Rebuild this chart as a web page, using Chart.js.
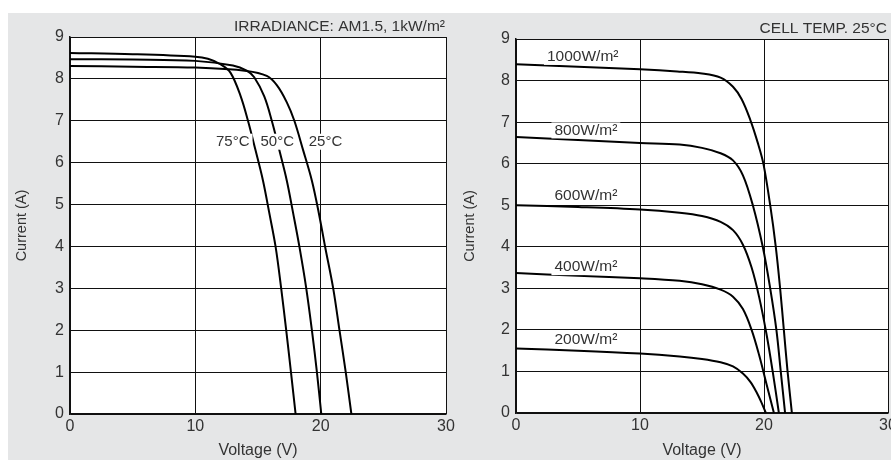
<!DOCTYPE html>
<html>
<head>
<meta charset="utf-8">
<script src="https://cdn.jsdelivr.net/npm/chart.js@4/dist/chart.umd.min.js"></script>
<style>
  html, body { margin: 0; padding: 0; width: 891px; height: 460px; overflow: hidden; background: #fff; }
  #panel { position: absolute; left: 8px; top: 13px; width: 883px; height: 447px; background: #e5e6e7; }
  #tempChart { position: absolute; left: 0; top: 0; }
  #irrChart { position: absolute; left: 455px; top: 0; }
</style>
</head>
<body>
<div id="panel"></div>
<canvas id="tempChart" width="455" height="460"></canvas>
<canvas id="irrChart" width="460" height="460"></canvas>
<script>
// left chart: I-V curves at different cell temperatures (1 kW/m2)
const tempNames = ["75°C", "50°C", "25°C"];
const volt75 = [0, 5, 10, 11, 12, 12.8, 13.6, 14.2, 14.8, 15.4, 15.9, 16.4, 16.85, 17.25, 17.63, 18.0];
const curr75 = [8.62, 8.59, 8.53, 8.48, 8.35, 8.15, 7.6, 7.0, 6.3, 5.57, 4.8, 4.0, 3.0, 2.0, 1.0, 0];
const volt50 = [0, 5, 10, 13, 14.1, 14.7, 15.5, 16.1, 16.7, 17.3, 17.8, 18.3, 18.85, 19.3, 19.7, 20.05];
const curr50 = [8.47, 8.46, 8.43, 8.32, 8.2, 8.04, 7.58, 7.0, 6.3, 5.57, 4.8, 4.0, 3.0, 2.0, 1.0, 0];
const volt25 = [0, 5, 10, 14.1, 15.7, 16.5, 17.3, 17.9, 18.6, 19.3, 19.85, 20.35, 21.0, 21.5, 22.0, 22.45];
const curr25 = [8.31, 8.29, 8.27, 8.19, 8.07, 7.85, 7.44, 7.0, 6.3, 5.57, 4.8, 4.0, 3.0, 2.0, 1.0, 0];

// right chart: I-V curves at different irradiance (25°C)
const irrNames = ["1000W/m²", "800W/m²", "600W/m²", "400W/m²", "200W/m²"];
const volt1000 = [0, 5, 10, 13, 15, 16.5, 17.5, 18.2, 18.9, 19.5, 19.95, 20.5, 20.95, 21.3, 21.6, 21.9, 22.25];
const curr1000 = [8.39, 8.33, 8.27, 8.22, 8.17, 8.07, 7.85, 7.55, 7.05, 6.5, 6.0, 5.0, 4.0, 3.0, 2.0, 1.0, 0];
const volt800 = [0, 5, 10, 13.2, 15, 16.5, 17.5, 18.3, 19.1, 19.9, 20.5, 21.0, 21.35, 21.7];
const curr800 = [6.64, 6.57, 6.5, 6.46, 6.38, 6.25, 6.08, 5.72, 5.0, 4.0, 3.0, 2.0, 1.0, 0];
const volt600 = [0, 5, 10, 13.2, 15, 16.5, 17.5, 18.3, 19.0, 19.6, 20.2, 20.7, 21.2];
const curr600 = [5.0, 4.96, 4.9, 4.82, 4.74, 4.6, 4.4, 4.05, 3.5, 2.8, 1.9, 1.0, 0];
const volt400 = [0, 5, 10, 13.2, 15, 16.5, 17.5, 18.3, 19.0, 19.6, 20.2, 20.8];
const curr400 = [3.37, 3.3, 3.24, 3.18, 3.1, 2.97, 2.8, 2.5, 2.0, 1.4, 0.7, 0];
const volt200 = [0, 5, 10, 13.2, 15, 16.5, 17.5, 18.3, 18.9, 19.4, 19.8, 20.15];
const curr200 = [1.55, 1.5, 1.43, 1.36, 1.3, 1.22, 1.12, 0.95, 0.75, 0.5, 0.25, 0];

const voltTicks = [0, 10, 20, 30];
const currTicks = [0, 1, 2, 3, 4, 5, 6, 7, 8, 9];

const FONT = "'Liberation Sans', Arial, Helvetica, sans-serif";
const TEXT = "#333";

function toPoints(vs, is) {
  return vs.map((v, k) => ({ x: v, y: is[k] }));
}

function curve(label, vs, is) {
  return {
    label: label,
    data: toPoints(vs, is),
    borderColor: "#000",
    borderWidth: 2,
    pointRadius: 0,
    fill: false,
    tension: 0.35
  };
}

// white plot area, header text and curve labels (labels knock out lines behind them)
const decor = {
  id: "decor",
  beforeDraw(chart) {
    const a = chart.chartArea;
    const ctx = chart.ctx;
    ctx.save();
    ctx.fillStyle = "#fff";
    ctx.fillRect(a.left, a.top, a.right - a.left, a.bottom - a.top);
    ctx.restore();
  },
  afterDraw(chart, args, opts) {
    const ctx = chart.ctx;
    const xs = chart.scales.x, ys = chart.scales.y;
    ctx.save();
    ctx.fillStyle = TEXT;
    ctx.font = opts.headerSize + "px " + FONT;
    ctx.textAlign = "right";
    ctx.textBaseline = "middle";
    ctx.fillText(opts.header, chart.chartArea.right - 1, opts.headerY);
    ctx.font = opts.labelSize + "px " + FONT;
    ctx.textAlign = "left";
    opts.labels.forEach((t, k) => {
      const px = xs.getPixelForValue(opts.at[k][0]);
      const py = ys.getPixelForValue(opts.at[k][1]);
      const w = ctx.measureText(t).width;
      ctx.fillStyle = "#fff";
      ctx.fillRect(px - 3, py - 8, w + 6, 16);
      ctx.fillStyle = TEXT;
      ctx.fillText(t, px, py);
    });
    ctx.restore();
  }
};

function makeOptions(cfg) {
  return {
    responsive: false,
    animation: false,
    layout: { padding: { left: cfg.padLeft, top: cfg.padTop, right: cfg.padRight, bottom: 0 } },
    plugins: {
      legend: { display: false },
      tooltip: { enabled: false },
      decor: { header: cfg.header, headerY: cfg.headerY, headerSize: 15.5, labels: cfg.labels, at: cfg.at, labelSize: cfg.labelSize }
    },
    scales: {
      x: {
        type: "linear",
        min: 0,
        max: 30,
        afterBuildTicks: (s) => { s.ticks = voltTicks.map(v => ({ value: v })); },
        afterFit: (s) => { s.height = cfg.xHeight; s.paddingLeft = 0; s.paddingRight = 0; },
        ticks: { color: TEXT, font: { family: FONT, size: 16 }, padding: 3, maxRotation: 0 },
        grid: { color: "#111", lineWidth: 1, drawTicks: false },
        border: { color: "#111", width: 1.5 },
        title: { display: true, text: "Voltage (V)", color: TEXT, font: { family: FONT, size: 16 }, padding: { top: 0, bottom: 0 } }
      },
      y: {
        min: 0,
        max: 9,
        afterBuildTicks: (s) => { s.ticks = currTicks.map(v => ({ value: v })); },
        afterFit: (s) => { s.width = cfg.yWidth; s.paddingTop = 0; s.paddingBottom = 0; },
        ticks: { color: TEXT, font: { family: FONT, size: 16 }, padding: 6 },
        grid: { color: "#111", lineWidth: 1, drawTicks: false },
        border: { color: "#111", width: 1.5 },
        title: { display: true, text: "Current (A)", color: TEXT, font: { family: FONT, size: 14.5 }, padding: { top: cfg.yTitlePad, bottom: 0 } }
      }
    }
  };
}

new Chart(document.getElementById("tempChart"), {
  type: "line",
  data: {
    datasets: [
      curve(tempNames[0], volt75, curr75),
      curve(tempNames[1], volt50, curr50),
      curve(tempNames[2], volt25, curr25)
    ]
  },
  options: makeOptions({
    padLeft: 8, padTop: 37, padRight: 9, xHeight: 46, yWidth: 62, yTitlePad: 5.3,
    header: "IRRADIANCE: AM1.5, 1kW/m²", headerY: 27, labelSize: 15,
    labels: tempNames, at: [[11.65, 6.5], [15.2, 6.5], [19.05, 6.5]]
  }),
  plugins: [decor]
});

new Chart(document.getElementById("irrChart"), {
  type: "line",
  data: {
    datasets: [
      curve(irrNames[0], volt1000, curr1000),
      curve(irrNames[1], volt800, curr800),
      curve(irrNames[2], volt600, curr600),
      curve(irrNames[3], volt400, curr400),
      curve(irrNames[4], volt200, curr200)
    ]
  },
  options: makeOptions({
    padLeft: 0, padTop: 39, padRight: 27, xHeight: 47, yWidth: 61, yTitlePad: 6.3,
    header: "CELL TEMP. 25°C", headerY: 29, labelSize: 15.5,
    labels: irrNames, at: [[2.5, 8.57], [3.1, 6.8], [3.1, 5.22], [3.1, 3.51], [3.1, 1.76]]
  }),
  plugins: [decor]
});
</script>
</body>
</html>
